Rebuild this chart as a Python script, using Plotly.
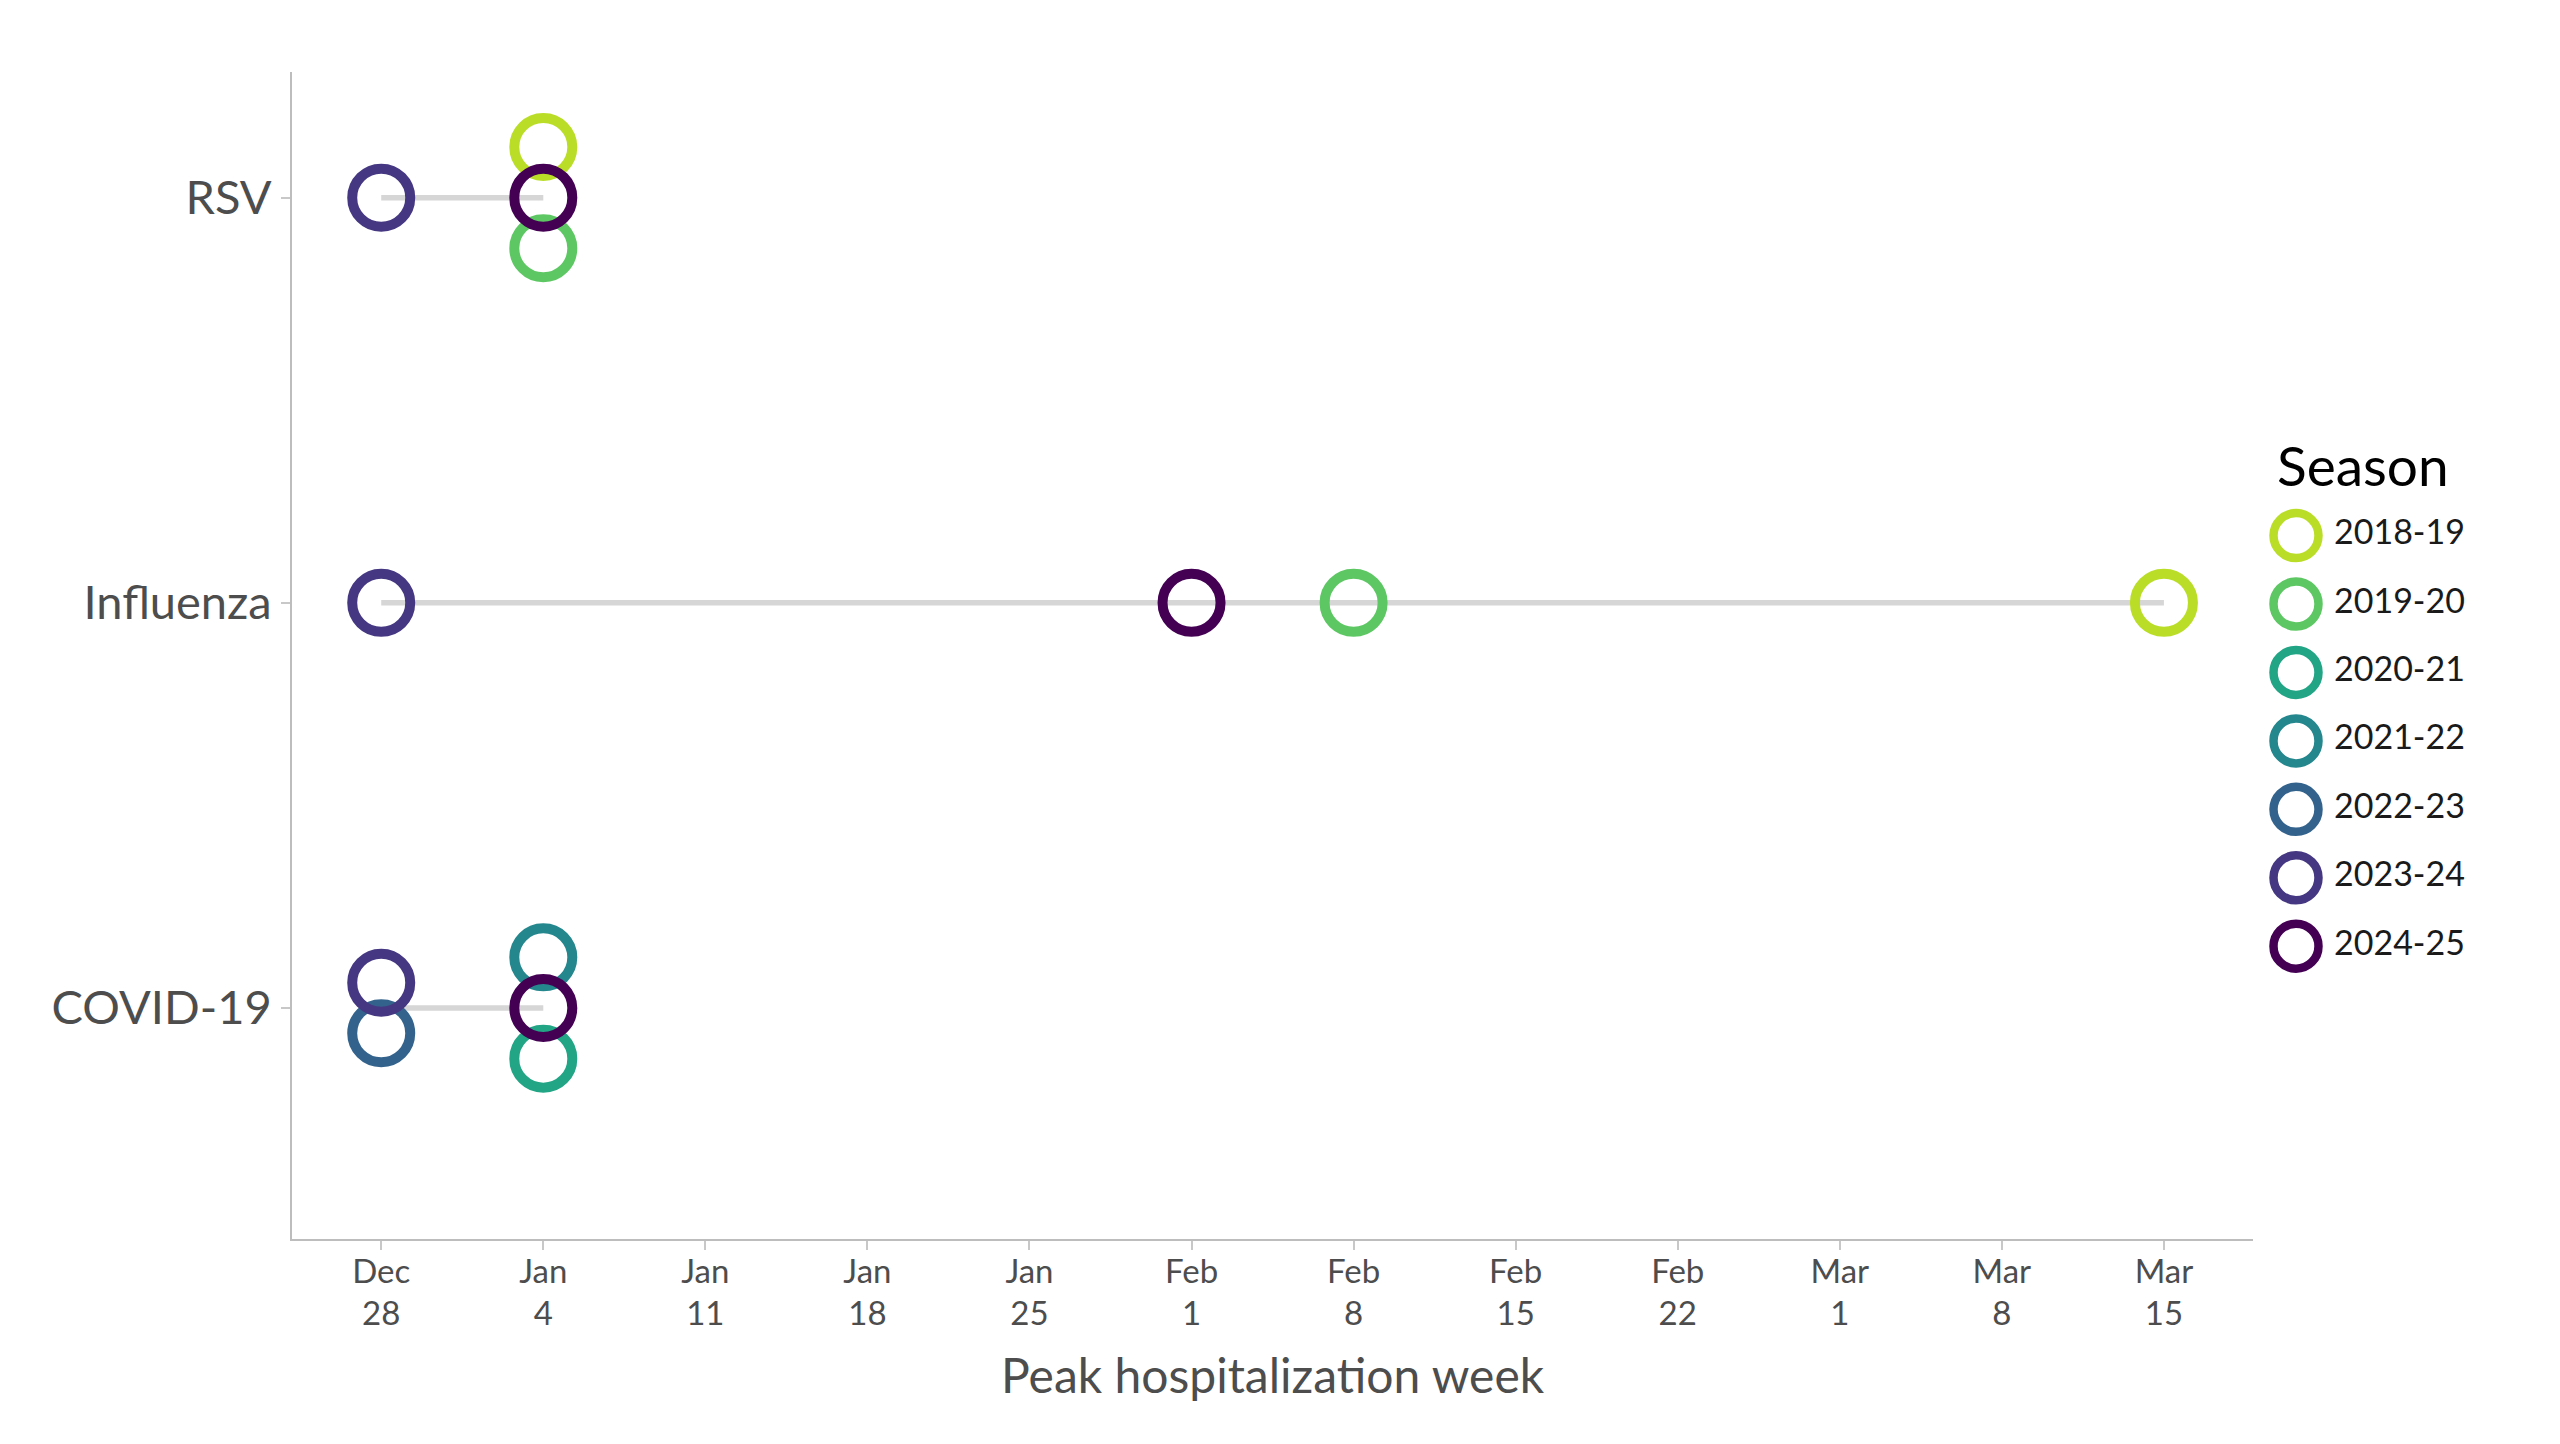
import plotly.graph_objects as go
import pandas as pd

# categories (bottom to top on the y axis)
diseases = ["COVID-19", "Influenza", "RSV"]

# seasons and their colours (viridis-like)
seasons = ["2018-19", "2019-20", "2020-21", "2021-22", "2022-23", "2023-24", "2024-25"]
season_colors = ["#BADE28", "#5DC863", "#21A585", "#24878E", "#33638D", "#453781", "#440154"]

# peak hospitalization week per disease and season
# (points sharing a week are listed top-to-bottom)
peak_disease = ["RSV", "RSV", "RSV", "RSV",
                "Influenza", "Influenza", "Influenza", "Influenza",
                "COVID-19", "COVID-19", "COVID-19", "COVID-19", "COVID-19"]
peak_season = ["2023-24", "2018-19", "2024-25", "2019-20",
               "2023-24", "2024-25", "2019-20", "2018-19",
               "2023-24", "2022-23", "2021-22", "2024-25", "2020-21"]
peak_week = ["2024-12-28", "2025-01-04", "2025-01-04", "2025-01-04",
             "2024-12-28", "2025-02-01", "2025-02-08", "2025-03-15",
             "2024-12-28", "2024-12-28", "2025-01-04", "2025-01-04", "2025-01-04"]

# x tick labels (weekly)
tick_weeks = pd.date_range("2024-12-28", "2025-03-15", freq="7D")

df = pd.DataFrame({"disease": peak_disease, "season": peak_season,
                   "week": pd.to_datetime(peak_week)})
df["ypos"] = df["disease"].map({d: i for i, d in enumerate(diseases)})

# stack points that share a disease/week so they don't hide each other
step = 0.125
df["rank"] = df.groupby(["disease", "week"]).cumcount()
df["n"] = df.groupby(["disease", "week"])["week"].transform("size")
df["y"] = df["ypos"] + ((df["n"] - 1) / 2 - df["rank"]) * step

FONT = "Lato, 'Open Sans', sans-serif"
GREY = "#4d4d4d"

fig = go.Figure()

# range lines
for d in diseases:
    sub = df[df["disease"] == d]
    y0 = sub["ypos"].iloc[0]
    fig.add_trace(go.Scatter(x=[sub["week"].min(), sub["week"].max()], y=[y0, y0],
                             mode="lines", line=dict(color="#d6d6d6", width=5.5),
                             hoverinfo="skip", showlegend=False))

# points
for s, c in zip(seasons, season_colors):
    sub = df[df["season"] == s]
    fig.add_trace(go.Scatter(x=sub["week"], y=sub["y"], mode="markers", name=s,
                             marker=dict(symbol="circle-open", size=58, color=c,
                                         line=dict(width=10)),
                             showlegend=False))

# hand-made legend with large rings
legend_rows = list(range(len(seasons)))
fig.add_trace(go.Scatter(x=[0] * len(seasons), y=legend_rows, mode="markers",
                         marker=dict(symbol="circle-open", size=45, color=season_colors,
                                     line=dict(width=8.5)),
                         xaxis="x2", yaxis="y2", hoverinfo="skip", showlegend=False))
fig.add_trace(go.Scatter(x=[38] * len(seasons), y=legend_rows, mode="text",
                         text=seasons, textposition="middle right",
                         textfont=dict(family=FONT, size=34, color="#1a1a1a"),
                         xaxis="x2", yaxis="y2", hoverinfo="skip", showlegend=False))

span = df["week"].max() - df["week"].min()
xr = [df["week"].min() - span * 0.05, df["week"].max() + span * 0.05]

fig.update_layout(
    width=2560, height=1444,
    margin=dict(l=0, r=0, t=0, b=0),
    paper_bgcolor="white", plot_bgcolor="white",
    font=dict(family=FONT, color=GREY),
    xaxis=dict(domain=[0.1141, 0.8801], range=xr, type="date",
               tickvals=tick_weeks,
               ticktext=[f"{t:%b}<br>{t.day}" for t in tick_weeks],
               tickfont=dict(size=33, color=GREY), ticklabelstandoff=-7,
               showline=True, linecolor="#bdbdbd", linewidth=2,
               ticks="outside", ticklen=9, tickwidth=2, tickcolor="#c8c8c8",
               showgrid=False, zeroline=False,
               title=dict(text="Peak hospitalization week",
                          font=dict(size=48, color=GREY), standoff=28)),
    yaxis=dict(domain=[0.1420, 0.9501], range=[-0.57, 2.31],
               tickvals=list(range(len(diseases))), ticktext=diseases,
               tickfont=dict(size=47, color=GREY),
               showline=True, linecolor="#bdbdbd", linewidth=2,
               ticks="outside", ticklen=9, tickwidth=2, tickcolor="#c8c8c8",
               showgrid=False, zeroline=False),
    xaxis2=dict(domain=[0.885, 1.0], range=[-30.4, 264], visible=False,
                fixedrange=True, anchor="y2"),
    yaxis2=dict(domain=[0, 1], range=[13.274, -7.826], visible=False,
                fixedrange=True, anchor="x2"),
    annotations=[dict(text="Season", x=0.8887, y=1 - 465 / 1444, xref="paper",
                      yref="paper", xanchor="left", yanchor="middle", showarrow=False,
                      font=dict(family=FONT, size=55, color="#000000"))],
)

fig.write_html("out.html", config={"displayModeBar": False},
               post_script="document.body.style.margin='0';")
